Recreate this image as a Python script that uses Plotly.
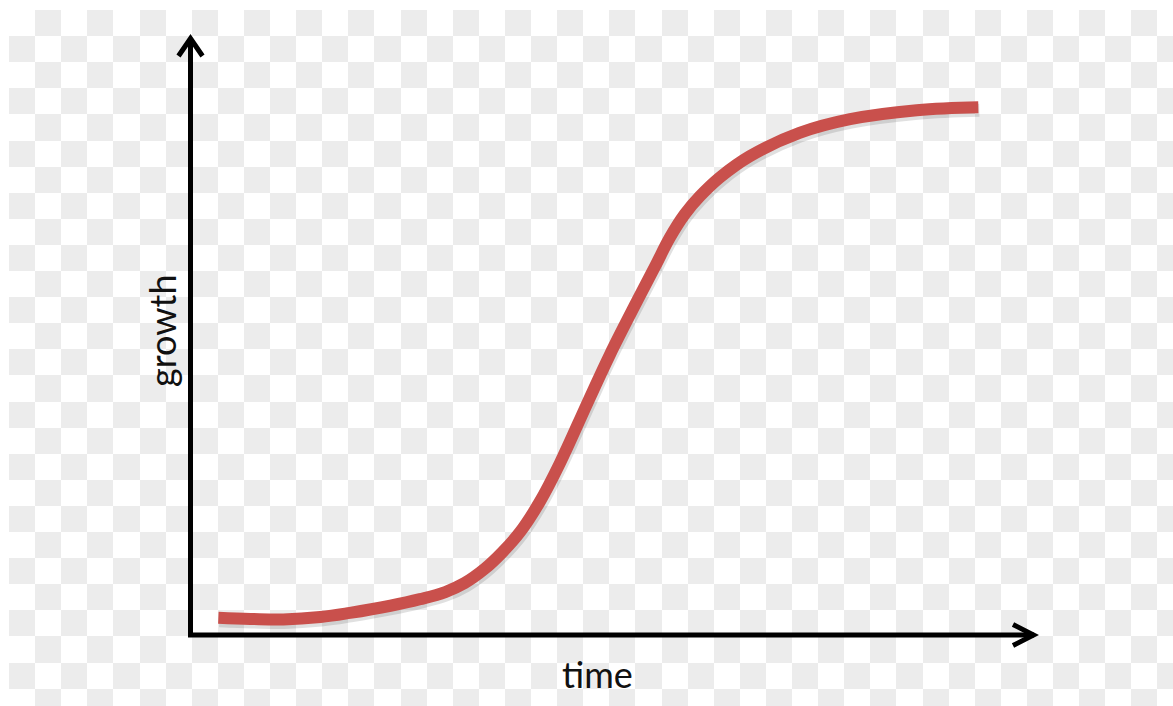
import plotly.graph_objects as go

# ---- data (abstract units 0..10) ----
time = [0.33, 0.71, 1.10, 1.54, 1.89, 2.37, 2.72, 3.02, 3.25, 3.49, 3.70, 3.91,
        4.14, 4.38, 4.71, 4.97, 5.30, 5.51, 5.68, 5.86, 6.04, 6.28, 6.63, 7.22,
        7.82, 8.61, 9.34]
growth = [0.29, 0.27, 0.26, 0.30, 0.37, 0.49, 0.60, 0.72, 0.87, 1.11, 1.39, 1.73,
          2.23, 2.88, 3.90, 4.69, 5.61, 6.18, 6.65, 7.05, 7.35, 7.67, 8.02, 8.41,
          8.64, 8.79, 8.84]
x_label = "time"
y_label = "growth"

W, H = 1173, 706

# ---- checkerboard backdrop (transparent-image look) ----
SQ = 26.1
x0c, y0c = 9, 10
xe = [0.0]
v = x0c
while v < W:
    xe.append(v)
    v += SQ
xe.append(W)
ye = [0.0]
v = y0c
while v < H:
    ye.append(v)
    v += SQ
ye.append(H)
z = []
for r in range(len(ye) - 1):
    row = []
    for c in range(len(xe) - 1):
        if r == 0 or c == 0:
            row.append(0)
        else:
            row.append((r - 1 + c - 1) % 2)
    z.append(row)

fig = go.Figure()
fig.add_trace(go.Heatmap(
    x=xe, y=ye, z=z, xaxis="x", yaxis="y",
    colorscale=[[0, "#ffffff"], [1, "#ececec"]], zmin=0, zmax=1,
    showscale=False, hoverinfo="skip"))

# shadow of the curve
fig.add_trace(go.Scatter(
    x=time, y=growth, xaxis="x2", yaxis="y2", mode="lines",
    line=dict(color="rgba(0,0,0,0.12)", width=13, shape="spline", smoothing=1.1),
    hoverinfo="skip", showlegend=False))

# the curve
fig.add_trace(go.Scatter(
    x=time, y=growth, xaxis="x3", yaxis="y3", mode="lines",
    line=dict(color="#c9504c", width=12, shape="spline", smoothing=1.1),
    showlegend=False))

px0, px1 = 190.5, 1034.0   # x pixel of time=0 and time=10
py0, py1 = 635.0, 38.0     # y pixel of growth=0 and growth=10
sx = (px1 - px0) / 10.0
sy = (py0 - py1) / 10.0
PAD = 0.6                  # extra data units around the axes (avoid clipping)


def dom_x(shift=0.0):
    return [(px0 - PAD * sx + shift) / W, (px1 + PAD * sx + shift) / W]


def dom_y(shift=0.0):
    return [1 - (py0 + PAD * sy + shift) / H, 1 - (py1 - PAD * sy + shift) / H]


rng = [-PAD, 10 + PAD]
hidden = dict(visible=False, fixedrange=True)
fig.update_layout(
    width=W, height=H,
    margin=dict(l=0, r=0, t=0, b=0),
    paper_bgcolor="white", plot_bgcolor="rgba(0,0,0,0)",
    showlegend=False,
    xaxis=dict(domain=[0, 1], range=[0, W], **hidden),
    yaxis=dict(domain=[0, 1], range=[H, 0], **hidden),
    xaxis2=dict(domain=dom_x(1), range=rng, anchor="y2", **hidden),
    yaxis2=dict(domain=dom_y(3), range=rng, anchor="x2", **hidden),
    xaxis3=dict(domain=dom_x(), range=rng, anchor="y3", **hidden),
    yaxis3=dict(domain=dom_y(), range=rng, anchor="x3", **hidden),
)

# axes with open arrow heads (sizes given in pixels, converted to data units)
def dx(p):
    return p / sx


def dy(p):
    return p / sy


fig.add_shape(type="path", xref="x3", yref="y3",
              path="M 0,10 L 0,0 L 10,0",
              line=dict(color="black", width=5))
fig.add_shape(type="path", xref="x3", yref="y3",
              path=f"M {-dx(12)},{10 - dy(18)} L 0,{10 - dy(0.5)} L {dx(12)},{10 - dy(18)}",
              line=dict(color="black", width=5))
fig.add_shape(type="path", xref="x3", yref="y3",
              path=f"M {10 - dx(21)},{dy(10.5)} L {10 - dx(0.5)},0 L {10 - dx(21)},{-dy(10.5)}",
              line=dict(color="black", width=5))

fig.add_annotation(text=x_label, xref="paper", yref="paper",
                   x=597 / W, y=1 - 674 / H, xanchor="center", yanchor="middle",
                   showarrow=False, font=dict(family="Lato", size=36, color="#111111"))
fig.add_annotation(text=y_label, xref="paper", yref="paper",
                   x=162 / W, y=1 - 331 / H, xanchor="center", yanchor="middle",
                   textangle=-90, showarrow=False,
                   font=dict(family="Lato", size=36, color="#111111"))

fig.write_html("out.html", config={"displayModeBar": False},
               post_script="document.body.style.margin='0';")
